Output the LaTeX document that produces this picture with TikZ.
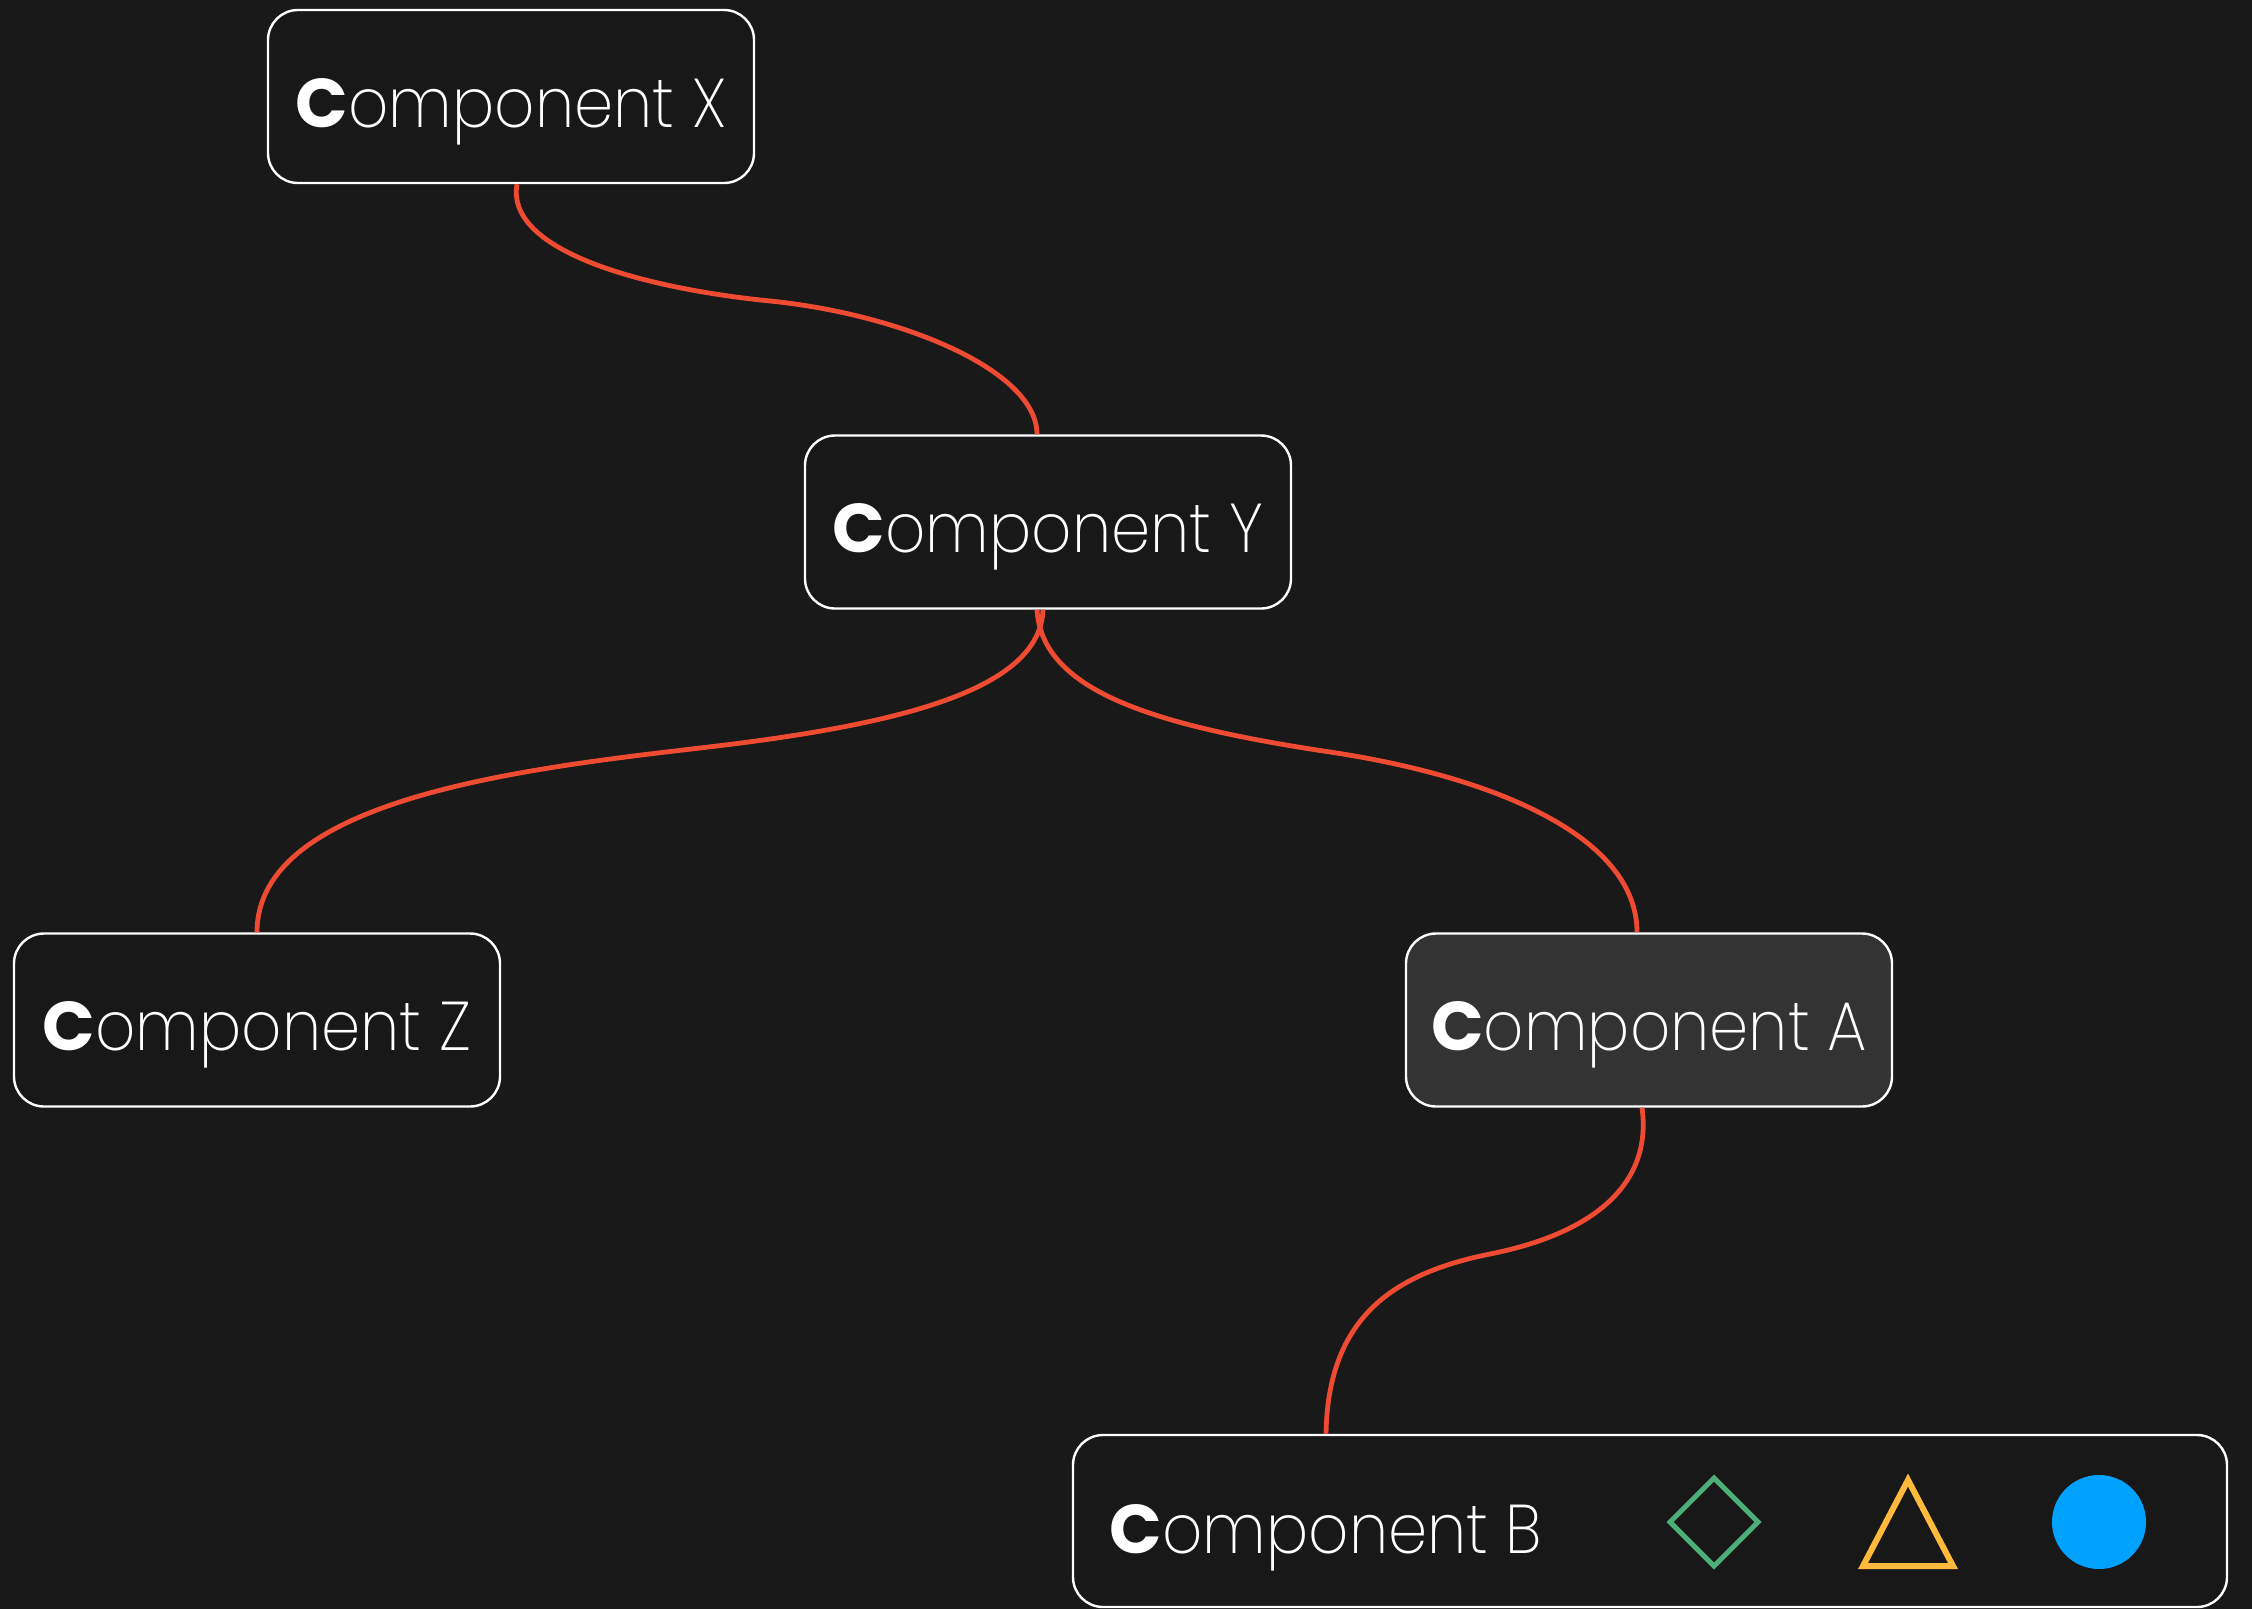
\documentclass[tikz,border=0pt]{standalone}
\usepackage{fontspec}
\newfontfamily\lightfont{Poppins ExtraLight}[FakeStretch=0.91]
\newfontfamily\heavyfont{Poppins Bold}
\usetikzlibrary{calc}

\definecolor{canvas}{HTML}{191919}
\definecolor{cardfill}{HTML}{181818}
\definecolor{cardhi}{HTML}{333333}
\definecolor{wire}{HTML}{EE4B32}
\definecolor{gemgreen}{HTML}{4CAF78}
\definecolor{warnyellow}{HTML}{FFBA3B}
\definecolor{dotblue}{HTML}{00A2FF}

\newcommand{\complabel}[1]{{\heavyfont C}{\lightfont omponent #1}}

\tikzset{
  card/.style={draw=white, line width=2.4pt, fill=cardfill, rounded corners=30pt,
    minimum width=486pt, minimum height=173pt, inner sep=0pt,
    text=white, font=\fontsize{69}{72}\selectfont,
    text height=61pt, text depth=0pt},
  cardactive/.style={card, fill=cardhi},
  labeltext/.style={text=white, font=\fontsize{69}{72}\selectfont, inner sep=0pt},
  wirepath/.style={draw=wire, line width=4.8pt},
}

\begin{document}
\begin{tikzpicture}[x=1pt, y=-1pt]
  % canvas
  \fill[canvas] (0,0) rectangle (2252,1609);
  \useasboundingbox (0,0) rectangle (2252,1609);

  % component cards
  \node[card] (X) at (511,96.5) {\complabel{X}};
  \node[card] (Y) at (1048,522) {\complabel{Y}};
  \node[card] (Z) at (257,1020) {\complabel{Z}};
  \node[cardactive] (A) at (1649,1020) {\complabel{A}};
  \node[card, minimum width=1154pt, minimum height=172pt] (B) at (1650,1521) {};
  \node[labeltext, anchor=base] (Blab) at (1326,1553) {\complabel{B}};

  % status glyphs inside card B
  \draw[gemgreen, line width=5pt, line join=miter]
    (1714,1478) -- (1758,1522) -- (1714,1566) -- (1670,1522) -- cycle;
  \draw[warnyellow, line width=6pt, line join=miter]
    (1908,1480) -- (1953,1566) -- (1863,1566) -- cycle;
  \fill[dotblue] (2099,1522) circle (47);

  % connectors
  \draw[wirepath] ([xshift=6pt]X.south)
    .. controls (505,250) and (640,288) .. (770,301)
    .. controls (900,314) and (1037,370) .. ([xshift=-11pt]Y.north);
  \draw[wirepath] ([xshift=-5pt]Y.south)
    .. controls (1040,690) and (900,725) .. (700,748)
    .. controls (520,769) and (257,800) .. (Z.north);
  \draw[wirepath] ([xshift=-11pt]Y.south)
    .. controls (1042,690) and (1150,725) .. (1330,752)
    .. controls (1490,776) and (1637,835) .. ([xshift=-12pt]A.north);
  \draw[wirepath] ([xshift=-7pt]A.south)
    .. controls (1652,1180) and (1600,1232) .. (1490,1254)
    .. controls (1390,1274) and (1328,1320) .. (Blab |- B.north);
\end{tikzpicture}
\end{document}
